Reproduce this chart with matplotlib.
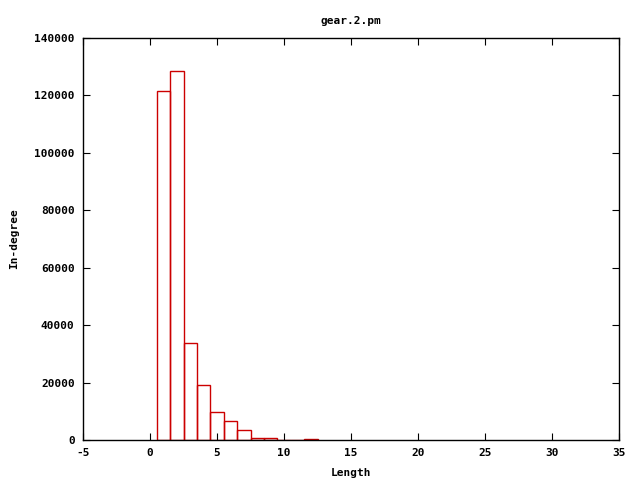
import numpy as np
import matplotlib
matplotlib.use("Agg")
import matplotlib.pyplot as plt

# histogram of path lengths
lengths = [1, 2, 3, 4, 5, 6, 7, 8, 9, 10, 11, 12]
indegree = [121500, 128500, 33800, 19200, 9700, 6500, 3400, 700, 650, 0, 0, 400]

x_ticks = [-5, 0, 5, 10, 15, 20, 25, 30, 35]
y_ticks = [0, 20000, 40000, 60000, 80000, 100000, 120000, 140000]

font = {"family": "DejaVu Sans Mono", "weight": "bold", "size": 8}

fig = plt.figure(figsize=(6.4, 4.8), dpi=100)
ax = fig.add_axes([83 / 640, 40 / 480, 536 / 640, 402 / 480])

ax.bar(lengths, indegree, width=1.0, fill=False, edgecolor="#cc0000", linewidth=1.0)

ax.set_xlim(-5, 35)
ax.set_ylim(0, 140000)
ax.set_xticks(x_ticks)
ax.set_yticks(y_ticks)
ax.set_xticklabels([str(t) for t in x_ticks], fontdict=font)
ax.set_yticklabels([str(t) for t in y_ticks], fontdict=font)
ax.tick_params(direction="in", length=5, top=True, right=True, pad=6)

for s in ax.spines.values():
    s.set_linewidth(1.0)

ax.set_title("gear.2.pm", fontdict=font, pad=10)
ax.set_xlabel("Length", fontdict=font, labelpad=7)
ax.set_ylabel("In-degree", fontdict=font, labelpad=11)

fig.savefig("out.png", dpi=100)
